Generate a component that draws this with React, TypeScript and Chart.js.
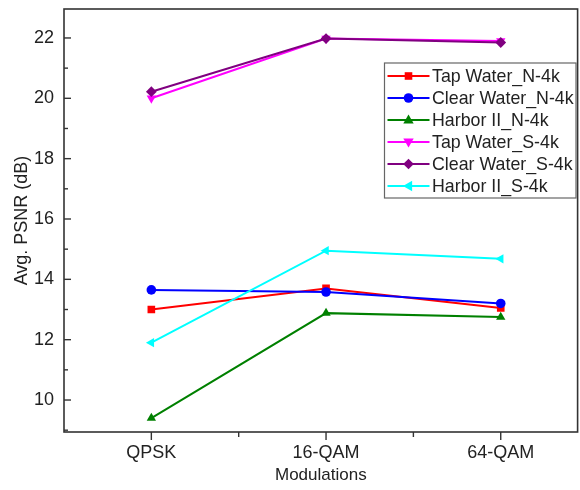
import React, { useEffect, useRef } from 'react';
import { Chart, registerables } from 'chart.js';

Chart.register(...registerables);

const categories = ['QPSK', '16-QAM', '64-QAM'];
const seriesNames = [
  'Tap Water_N-4k',
  'Clear Water_N-4k',
  'Harbor II_N-4k',
  'Tap Water_S-4k',
  'Clear Water_S-4k',
  'Harbor II_S-4k',
];
const tapWaterN = [13.0, 13.7, 13.05];
const clearWaterN = [13.65, 13.58, 13.2];
const harborN = [9.4, 12.88, 12.75];
const tapWaterS = [20.0, 21.98, 21.9];
const clearWaterS = [20.22, 21.98, 21.85];
const harborS = [11.9, 14.95, 14.68];
const yMajorTicks = [10, 12, 14, 16, 18, 20, 22];
const yMinorTicks = [9, 11, 13, 15, 17, 19, 21];
const xMinorTicks = [1.5, 2.5];

const colors = ['#ff0000', '#0000ff', '#008000', '#ff00ff', '#800080', '#00ffff'];
const pointStyles = ['rect', 'circle', 'triangle', 'triangle', 'rectRot', 'triangle'];
const rotations = [0, 0, 0, 180, 0, -90];
const allSeries = [tapWaterN, clearWaterN, harborN, tapWaterS, clearWaterS, harborS];

const FONT = "'Liberation Sans', Arial, sans-serif";
const TEXT = '#222222';

function drawMarker(ctx: CanvasRenderingContext2D, kind: number, x: number, y: number) {
  ctx.beginPath();
  switch (kind) {
    case 0:
      ctx.rect(x - 3.8, y - 3.8, 7.6, 7.6);
      break;
    case 1:
      ctx.arc(x, y, 4.8, 0, Math.PI * 2);
      break;
    case 2:
      ctx.moveTo(x, y - 5.5);
      ctx.lineTo(x + 5.2, y + 3.6);
      ctx.lineTo(x - 5.2, y + 3.6);
      break;
    case 3:
      ctx.moveTo(x, y + 5.5);
      ctx.lineTo(x + 5.2, y - 3.6);
      ctx.lineTo(x - 5.2, y - 3.6);
      break;
    case 4:
      ctx.moveTo(x, y - 5.3);
      ctx.lineTo(x + 5.3, y);
      ctx.lineTo(x, y + 5.3);
      ctx.lineTo(x - 5.3, y);
      break;
    case 5:
      ctx.moveTo(x - 5.5, y);
      ctx.lineTo(x + 3.6, y - 5.2);
      ctx.lineTo(x + 3.6, y + 5.2);
      break;
  }
  ctx.closePath();
  ctx.fill();
}

const framePlugin = {
  id: 'frameAndLegend',
  afterDraw(chart: any) {
    const { ctx, chartArea, scales } = chart;
    const { left, right, top, bottom } = chartArea;
    const xs = scales.x;
    const ys = scales.y;
    ctx.save();
    ctx.strokeStyle = '#333333';
    ctx.lineWidth = 1.6;
    ctx.strokeRect(left, top, right - left, bottom - top);
    ctx.lineWidth = 1.4;
    yMajorTicks.forEach((v) => {
      const py = ys.getPixelForValue(v);
      ctx.beginPath();
      ctx.moveTo(left, py);
      ctx.lineTo(left + 7, py);
      ctx.stroke();
    });
    yMinorTicks.forEach((v) => {
      const py = ys.getPixelForValue(v);
      ctx.beginPath();
      ctx.moveTo(left, py);
      ctx.lineTo(left + 4, py);
      ctx.stroke();
    });
    categories.forEach((_, i) => {
      const px = xs.getPixelForValue(i + 1);
      ctx.beginPath();
      ctx.moveTo(px, bottom);
      ctx.lineTo(px, bottom + 8);
      ctx.stroke();
    });
    xMinorTicks.forEach((v) => {
      const px = xs.getPixelForValue(v);
      ctx.beginPath();
      ctx.moveTo(px, bottom);
      ctx.lineTo(px, bottom + 5);
      ctx.stroke();
    });

    const bx = 384.5;
    const by = 63;
    const bw = 576 - bx;
    const bh = 135;
    ctx.fillStyle = '#ffffff';
    ctx.fillRect(bx, by, bw, bh);
    ctx.strokeStyle = '#666666';
    ctx.lineWidth = 1.2;
    ctx.strokeRect(bx, by, bw, bh);
    ctx.font = `17.8px ${FONT}`;
    ctx.textBaseline = 'middle';
    ctx.textAlign = 'left';
    seriesNames.forEach((name, i) => {
      const ry = by + 13 + i * 22;
      ctx.strokeStyle = colors[i];
      ctx.fillStyle = colors[i];
      ctx.lineWidth = 2;
      ctx.beginPath();
      ctx.moveTo(387.5, ry);
      ctx.lineTo(429.5, ry);
      ctx.stroke();
      drawMarker(ctx, i, 408.5, ry);
      ctx.fillStyle = TEXT;
      ctx.fillText(name, 432, ry + 1);
    });
    ctx.restore();
  },
};

export default function App() {
  const canvasRef = useRef<HTMLCanvasElement | null>(null);

  useEffect(() => {
    if (!canvasRef.current) return;
    const n = allSeries.length;
    const chart = new Chart(canvasRef.current, {
      type: 'line',
      data: {
        datasets: allSeries.map((vals, i) => ({
          label: seriesNames[i],
          data: vals.map((v, j) => ({ x: j + 1, y: v })),
          borderColor: colors[i],
          backgroundColor: colors[i],
          borderWidth: 2,
          pointStyle: pointStyles[i] as any,
          pointRotation: rotations[i],
          pointRadius: i === 1 ? 4.8 : 5.4,
          pointBorderWidth: 0,
          pointBackgroundColor: colors[i],
          tension: 0,
          fill: false,
          order: n - i,
        })),
      },
      options: {
        responsive: false,
        animation: false,
        devicePixelRatio: 1,
        layout: { padding: { top: 9, right: 0, left: 0, bottom: 0 } },
        plugins: {
          legend: { display: false },
          tooltip: { enabled: false },
        },
        scales: {
          x: {
            type: 'linear',
            min: 0.5,
            max: 3.44,
            afterBuildTicks: (scale: any) => {
              scale.ticks = categories.map((_, i) => ({ value: i + 1 }));
            },
            afterFit: (scale: any) => {
              scale.height = 58;
              scale.paddingLeft = 0;
              scale.paddingRight = 0;
            },
            grid: { display: false, drawTicks: false },
            border: { display: false },
            ticks: {
              autoSkip: false,
              maxRotation: 0,
              padding: 10,
              color: TEXT,
              font: { family: FONT, size: 18 },
              callback: (v: any) => categories[Math.round(Number(v)) - 1] ?? '',
            },
            title: {
              display: true,
              text: 'Modulations',
              color: TEXT,
              font: { family: FONT, size: 17 },
              padding: { top: 0, bottom: 4 },
            },
          },
          y: {
            type: 'linear',
            min: 8.94,
            max: 22.96,
            afterBuildTicks: (scale: any) => {
              scale.ticks = yMajorTicks.map((v) => ({ value: v }));
            },
            afterFit: (scale: any) => {
              scale.width = 64;
              scale.paddingTop = 0;
              scale.paddingBottom = 0;
            },
            grid: { display: false, drawTicks: false },
            border: { display: false },
            ticks: {
              padding: 10,
              color: TEXT,
              font: { family: FONT, size: 18 },
              callback: (v: any) => String(v),
            },
            title: {
              display: true,
              text: 'Avg. PSNR (dB)',
              color: TEXT,
              font: { family: FONT, size: 18 },
              padding: { top: 11, bottom: 0 },
            },
          },
        },
      },
      plugins: [framePlugin],
    });
    return () => chart.destroy();
  }, []);

  return (
    <div style={{ position: 'absolute', left: 0, top: 0, width: 580, height: 490, overflow: 'hidden', background: '#fff' }}>
      <canvas ref={canvasRef} width={583} height={490} />
    </div>
  );
}
